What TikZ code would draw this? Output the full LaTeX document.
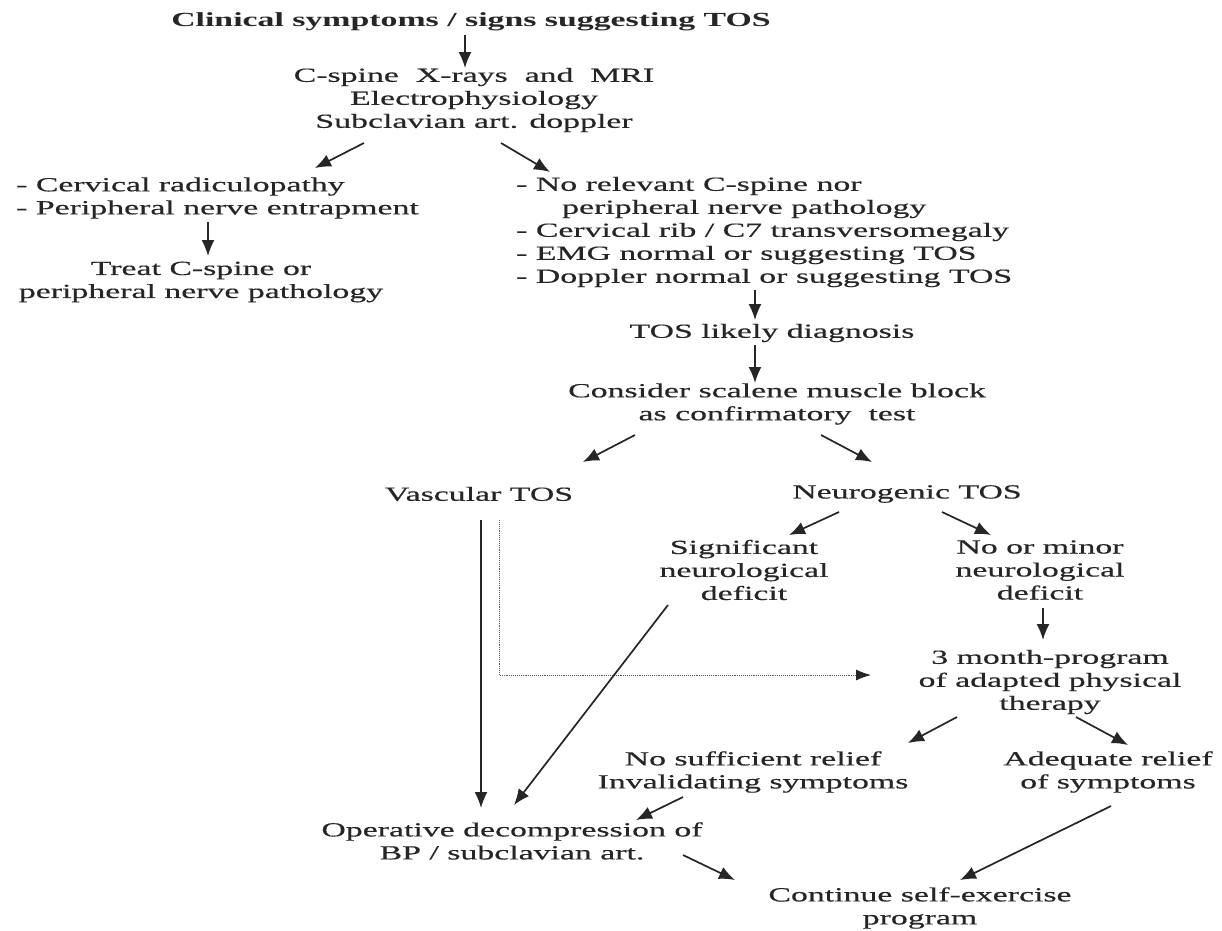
\documentclass[tikz,border=0pt]{standalone}
\usepackage{fontspec}
\setmainfont{Liberation Serif}[FakeStretch=1.69, UprightFeatures={FakeBold=0.4}]
\usetikzlibrary{arrows.meta,calc}
\tikzset{
  lbl/.style={align=center, inner sep=1pt, font=\fontsize{20}{23}\selectfont, text=black!85},
  lst/.style={lbl, align=left, anchor=west},
  arr/.style={-{Latex[length=16pt,width=13pt]}, line width=1.7pt, black!85},
  dotarr/.style={-{Latex[length=15pt,width=11pt,black!85]}, densely dotted, line width=0.9pt, gray!70!black}
}
\begin{document}
\begin{tikzpicture}[x=1pt,y=-1pt]
  \useasboundingbox[fill=white] (0,0) rectangle (1222,930);
  % boxes of text
  \node[lbl, font=\fontsize{20}{23}\bfseries] (title) at (471,22) {Clinical symptoms / signs suggesting TOS};
  \node[lbl] (tests) at (474,100) {C-spine~~X-rays~~and~~MRI\\Electrophysiology\\Subclavian art. doppler};
  \node[lst] (radic) at (15,198) {- Cervical radiculopathy\\- Peripheral nerve entrapment};
  \node[lbl] (treat) at (201,282) {Treat C-spine or\\peripheral nerve pathology};
  \node[lst] (norel) at (515,232) {- No relevant C-spine nor\\\hspace*{46pt}peripheral nerve pathology\\- Cervical rib / C7 transversomegaly\\- EMG normal or suggesting TOS\\- Doppler normal or suggesting TOS};
  \node[lbl] (likely) at (772,333) {TOS likely diagnosis};
  \node[lbl] (scalene) at (777,404) {Consider scalene muscle block\\as confirmatory~~test};
  \node[lbl] (vasc) at (479,494) {Vascular TOS};
  \node[lbl] (neuro) at (907,494) {Neurogenic TOS};
  \node[lbl] (signif) at (744,570) {Significant\\neurological\\deficit};
  \node[lbl] (minor) at (1040,570) {No or minor\\neurological\\deficit};
  \node[lbl] (phys) at (1050,682) {3 month-program\\of adapted physical\\therapy};
  \node[lbl] (nosuff) at (753,772) {No sufficient relief\\Invalidating symptoms};
  \node[lbl] (adeq) at (1108,772) {Adequate relief\\of symptoms};
  \node[lbl] (oper) at (512,841) {Operative decompression of\\BP / subclavian art.};
  \node[lbl] (cont) at (920,908) {Continue self-exercise\\program};
  % arrows
  \draw[arr] ($(title)+(-6,13)$) -- ($(tests)+(-9,-32)$);
  \draw[arr] ($(tests)+(-110,43)$) -- ($(radic.west)+(300,-30)$);
  \draw[arr] ($(tests)+(27,43)$) -- ($(norel.west)+(35,-60)$);
  \draw[arr] ($(radic.west)+(193,24)$) -- ($(treat)+(7,-26)$);
  \draw[arr] ($(norel.west)+(240,58)$) -- ($(likely)+(-17,-13)$);
  \draw[arr] ($(likely)+(-17,12)$) -- ($(scalene)+(-22,-21)$);
  \draw[arr] ($(scalene)+(-142,31)$) -- ($(vasc)+(104,-32)$);
  \draw[arr] ($(scalene)+(44,31)$) -- ($(neuro)+(-35,-32)$);
  \draw[arr] ($(neuro)+(-68,18)$) -- ($(signif)+(45,-35)$);
  \draw[arr] ($(neuro)+(35,18)$) -- ($(minor)+(-49,-35)$);
  \draw[arr] ($(minor)+(3,38)$) -- ($(phys)+(-7,-42)$);
  \draw[arr] ($(vasc)+(2,26)$) -- ($(oper)+(-31,-33)$);
  \draw[dotarr] ($(vasc)+(20,26)$) |- ($(phys)+(-179,-7)$);
  \draw[arr] ($(signif)+(-76,35)$) -- ($(oper)+(2,-36)$);
  \draw[arr] ($(phys)+(-93,35)$) -- ($(nosuff)+(155,-29)$);
  \draw[arr] ($(phys)+(26,35)$) -- ($(adeq)+(20,-27)$);
  \draw[arr] ($(nosuff)+(-70,25)$) -- ($(oper)+(124,-21)$);
  \draw[arr] ($(oper)+(171,14)$) -- ($(cont)+(-185,-28)$);
  \draw[arr] ($(adeq)+(3,34)$) -- ($(cont)+(40,-28)$);
\end{tikzpicture}
\end{document}
